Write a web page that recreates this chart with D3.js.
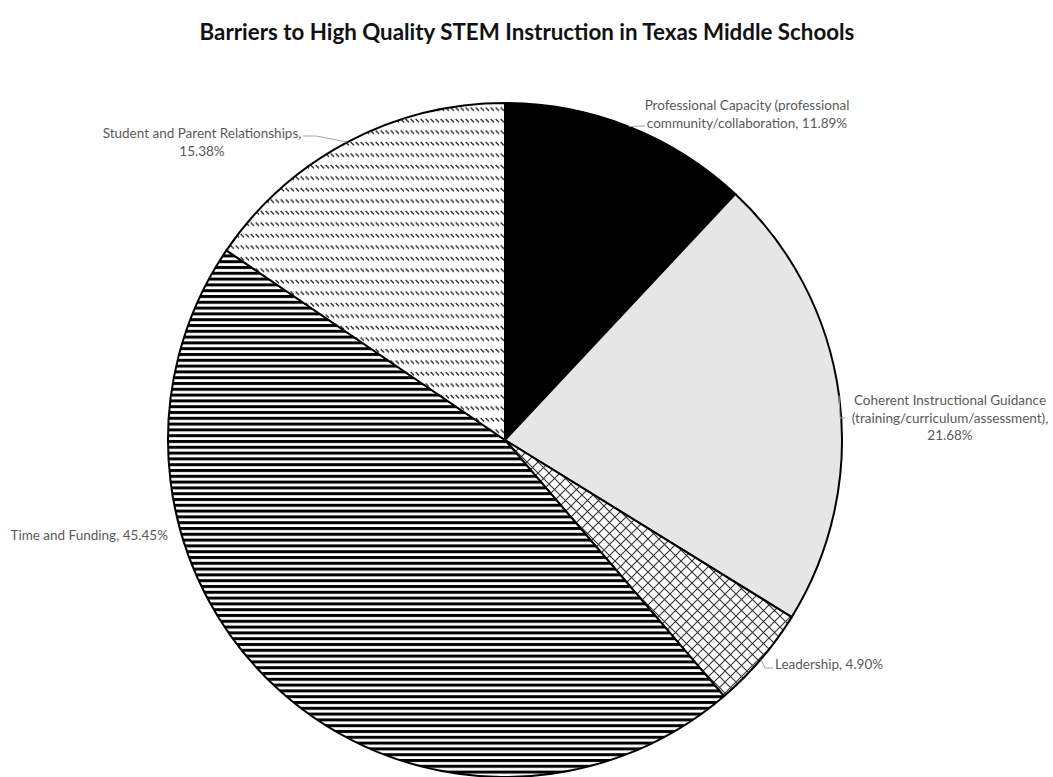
<!DOCTYPE html>
<html>
<head>
<meta charset="utf-8">
<script src="https://cdn.jsdelivr.net/npm/d3@7"></script>
<style>
  html, body { margin: 0; padding: 0; background: #fff; }
  svg { display: block; }
</style>
</head>
<body>
<svg id="chart" width="1053" height="777"></svg>
<script>
// Survey shares of reported barriers (percent), clockwise from 12 o'clock
const categories = [
  "Professional Capacity (professional community/collaboration",
  "Coherent Instructional Guidance (training/curriculum/assessment)",
  "Leadership",
  "Time and Funding",
  "Student and Parent Relationships"
];
const values = [11.89, 21.68, 4.90, 45.45, 15.38];
const labelLines = [
  ["Professional Capacity (professional", "community/collaboration, 11.89%"],
  ["Coherent Instructional Guidance", "(training/curriculum/assessment),", "21.68%"],
  ["Leadership, 4.90%"],
  ["Time and Funding, 45.45%"],
  ["Student and Parent Relationships,", "15.38%"]
];
const title = "Barriers to High Quality STEM Instruction in Texas Middle Schools";

const W = 1053, H = 777;
const cx = 505, cy = 440, R = 337;
const svg = d3.select("#chart");
const defs = svg.append("defs");

// Fill patterns
const stripes = defs.append("pattern").attr("id", "pStripes")
  .attr("patternUnits", "userSpaceOnUse").attr("width", 6).attr("height", 5.8);
stripes.append("rect").attr("width", 6).attr("height", 5.8).attr("fill", "#fff");
stripes.append("rect").attr("y", 0).attr("width", 6).attr("height", 3).attr("fill", "#000");

const dashes = defs.append("pattern").attr("id", "pDashes")
  .attr("patternUnits", "userSpaceOnUse").attr("width", 5).attr("height", 11.5);
dashes.append("rect").attr("width", 5).attr("height", 11.5).attr("fill", "#fff");
dashes.append("line").attr("x1", 0.6).attr("y1", 1).attr("x2", 4).attr("y2", 4.4)
  .attr("stroke", "#222").attr("stroke-width", 1.3);

const cross = defs.append("pattern").attr("id", "pCross")
  .attr("patternUnits", "userSpaceOnUse").attr("width", 11).attr("height", 11);
cross.append("rect").attr("width", 11).attr("height", 11).attr("fill", "#fff");
cross.append("path").attr("d", "M0,0L11,11M11,0L0,11")
  .attr("stroke", "#333").attr("stroke-width", 1.1);

const fills = ["#000000", "#e6e6e6", "url(#pCross)", "url(#pStripes)", "url(#pDashes)"];

// Title, fitted to its width
const titleText = svg.append("text")
  .attr("x", 527).attr("y", 40)
  .attr("text-anchor", "middle")
  .attr("font-family", "Lato, 'Open Sans', sans-serif")
  .attr("font-weight", "bold")
  .attr("fill", "#111")
  .attr("font-size", 18)
  .text(title);
const tw = titleText.node().getComputedTextLength();
titleText.attr("font-size", 18 * 655 / tw);

// Pie
const pie = d3.pie().sort(null).value(d => d);
const arcs = pie(values);
const arc = d3.arc().innerRadius(0).outerRadius(R);
const g = svg.append("g").attr("transform", `translate(${cx},${cy})`);
g.selectAll("path.slice").data(arcs).enter().append("path")
  .attr("class", "slice")
  .attr("d", arc)
  .attr("fill", (d, i) => fills[i])
  .attr("stroke", "#000")
  .attr("stroke-width", 2)
  .attr("stroke-linejoin", "round");

// Label layout: text anchor point, alignment, and leader-line elbow
const layout = [
  { x: 747, y: 110, anchor: "middle", elbow: [[645, 126]] },
  { x: 950, y: 405, anchor: "middle", elbow: [[840, 418], [845, 418]] },
  { x: 775, y: 669, anchor: "start", elbow: [[765, 668], [773, 668]] },
  { x: 168, y: 540, anchor: "end", elbow: null },
  { x: 202, y: 138, anchor: "middle", elbow: [[316, 136], [303, 136]] }
];
const lineH = 17.5;
const labels = svg.append("g")
  .attr("font-family", "Lato, 'Open Sans', sans-serif")
  .attr("font-size", 13.5)
  .attr("fill", "#595959");

arcs.forEach((a, i) => {
  const L = layout[i];
  if (L.elbow) {
    const mid = (a.startAngle + a.endAngle) / 2;
    const start = [cx + R * Math.sin(mid), cy - R * Math.cos(mid)];
    const pts = [start].concat(L.elbow);
    svg.append("path")
      .attr("d", d3.line()(pts))
      .attr("fill", "none")
      .attr("stroke", "#a6a6a6")
      .attr("stroke-width", 1);
  }
  const t = labels.append("text")
    .attr("x", L.x).attr("y", L.y)
    .attr("text-anchor", L.anchor);
  labelLines[i].forEach((s, k) => {
    t.append("tspan").attr("x", L.x).attr("dy", k === 0 ? 0 : lineH).text(s);
  });
});
</script>
</body>
</html>
